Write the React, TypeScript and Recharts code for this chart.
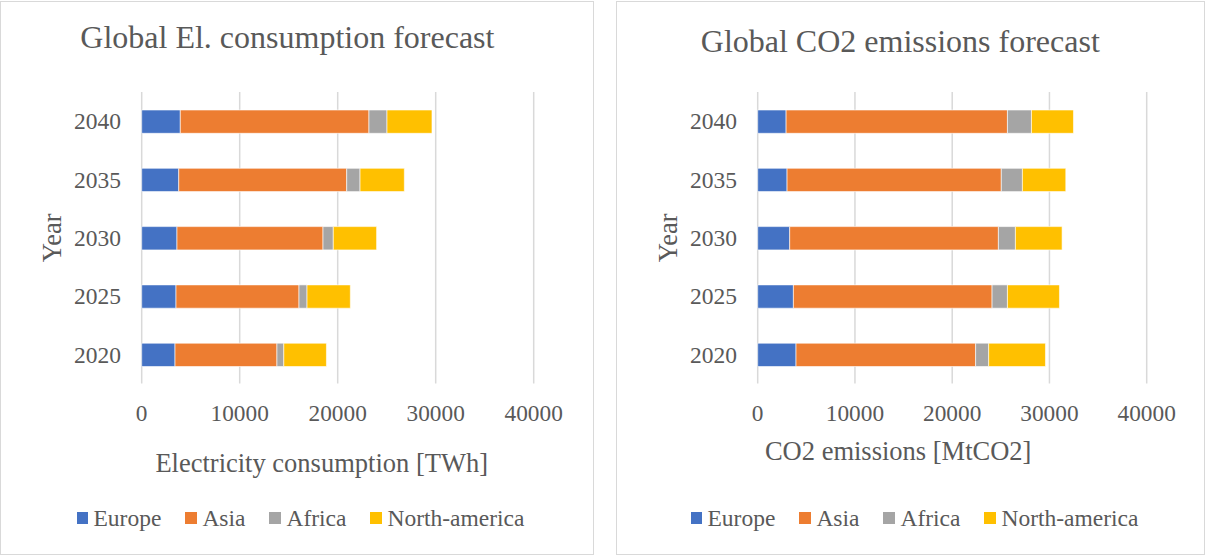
import { BarChart, Bar, XAxis, YAxis, CartesianGrid, Legend, Label } from "recharts";

const years = ["2020", "2025", "2030", "2035", "2040"];
const regions = ["Europe", "Asia", "Africa", "North-america"];
const regionColors = ["#4472C4", "#ED7D31", "#A5A5A5", "#FFC000"];
const xTicks = [0, 10000, 20000, 30000, 40000];

// electricity consumption, TWh
const elEurope = [3400, 3500, 3600, 3780, 3940];
const elAsia = [10400, 12550, 14900, 17140, 19250];
const elAfrica = [700, 820, 1050, 1360, 1840];
const elNorthAmerica = [4350, 4420, 4420, 4520, 4590];

// CO2 emissions, MtCO2
const co2Europe = [3940, 3670, 3290, 3020, 2920];
const co2Asia = [18470, 20430, 21460, 22030, 22760];
const co2Africa = [1340, 1580, 1750, 2170, 2470];
const co2NorthAmerica = [5840, 5350, 4800, 4460, 4320];

const FONT = '"Liberation Serif", "Times New Roman", serif';
const TEXT = "#595959";
const GRID = "#D9D9D9";

function buildRows(series: number[][]) {
  return years.map((year, i) => {
    const row: Record<string, string | number> = { year };
    regions.forEach((r, k) => {
      row[r] = series[k][i];
    });
    return row;
  });
}

const elRows = buildRows([elEurope, elAsia, elAfrica, elNorthAmerica]);
const co2Rows = buildRows([co2Europe, co2Asia, co2Africa, co2NorthAmerica]);

const LegendRow = ({ startX }: { startX: number }) => (
  <div
    style={{
      display: "flex", alignItems: "center", height: 26, paddingLeft: startX,
      fontFamily: FONT, fontSize: 23.5, lineHeight: "26px", color: TEXT, whiteSpace: "nowrap",
    }}
  >
    {regions.map((r, i) => (
      <div key={r} style={{ display: "flex", alignItems: "center", marginRight: 24 }}>
        <span style={{ width: 11.5, height: 11.5, background: regionColors[i], marginRight: 5.5 }} />
        <span>{r}</span>
      </div>
    ))}
  </div>
);

type PanelProps = {
  left: number;
  width: number;
  plotWidth: number;
  title: string;
  titleX: number;
  titleTop: number;
  rows: Record<string, string | number>[];
  axisTitle: string;
  axisDx: number;
  axisOffset: number;
  legendX: number;
};

function Panel(p: PanelProps) {
  return (
    <div style={{ position: "absolute", left: p.left, top: 0, width: p.width, height: 555 }}>
      <BarChart
        width={p.width}
        height={555}
        data={p.rows}
        layout="vertical"
        barSize={23.3}
        margin={{ top: 92, right: p.width - 141.7 - p.plotWidth, bottom: 0, left: 41.7 }}
      >
        <CartesianGrid horizontal={false} stroke={GRID} strokeWidth={1.5} />
        <XAxis
          type="number"
          domain={[0, 40000]}
          ticks={xTicks}
          interval={0}
          axisLine={false}
          tickLine={false}
          tickSize={0}
          tickMargin={20.7}
          height={145.5}
          tick={{ fontSize: 23.3, fill: TEXT, fontFamily: FONT }}
        >
          <Label
            value={p.axisTitle}
            position="insideTop"
            offset={p.axisOffset}
            dx={p.axisDx}
            fontSize={26.5}
            fill={TEXT}
            fontFamily={FONT}
          />
        </XAxis>
        <YAxis
          type="category"
          dataKey="year"
          reversed
          width={100}
          axisLine={false}
          tickLine={false}
          tickSize={0}
          tickMargin={20.7}
          tick={{ fontSize: 23.5, fill: TEXT, fontFamily: FONT }}
        >
          <Label
            value="Year"
            angle={-90}
            position="insideLeft"
            offset={9.5}
            fontSize={26.5}
            fill={TEXT}
            fontFamily={FONT}
            style={{ textAnchor: "middle" }}
          />
        </YAxis>
        <Legend
          verticalAlign="bottom"
          content={() => <LegendRow startX={p.legendX} />}
          wrapperStyle={{ left: 0, top: 505, bottom: "auto", width: p.width }}
        />
        {regions.map((r, i) => (
          <Bar
            key={r}
            dataKey={r}
            stackId="total"
            fill={regionColors[i]}
            stroke="#ffffff"
            strokeWidth={0.6}
            isAnimationActive={false}
          />
        ))}
      </BarChart>
      <div
        style={{
          position: "absolute", left: p.titleX, top: p.titleTop, transform: "translateX(-50%)",
          fontFamily: FONT, fontSize: 32, lineHeight: "32px", color: TEXT, whiteSpace: "nowrap",
        }}
      >
        {p.title}
      </div>
      <div
        style={{
          position: "absolute", left: 0, top: 1, width: p.width, height: 554,
          border: `1.5px solid ${GRID}`, boxSizing: "border-box", pointerEvents: "none",
        }}
      />
    </div>
  );
}

export default function App() {
  return (
    <div style={{ position: "absolute", left: 0, top: 0, width: 1205, height: 555, background: "#ffffff" }}>
      <Panel
        left={0}
        width={594}
        plotWidth={392}
        title="Global El. consumption forecast"
        titleX={287.4}
        titleTop={21}
        rows={elRows}
        axisTitle="Electricity consumption [TWh]"
        axisDx={-16}
        axisOffset={69.4}
        legendX={76.5}
      />
      <Panel
        left={616}
        width={589}
        plotWidth={389}
        title="Global CO2 emissions forecast"
        titleX={284.3}
        titleTop={25}
        rows={co2Rows}
        axisTitle="CO2 emissions [MtCO2]"
        axisDx={-54}
        axisOffset={57.7}
        legendX={74.5}
      />
    </div>
  );
}
